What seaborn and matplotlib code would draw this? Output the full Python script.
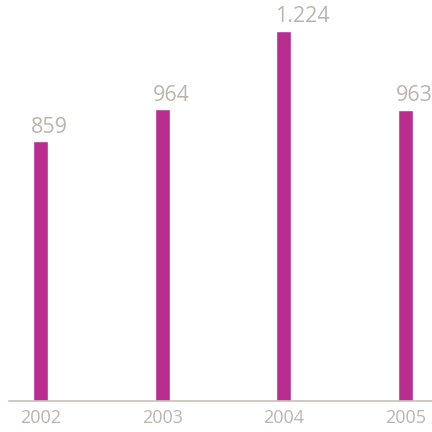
import matplotlib
matplotlib.use("Agg")
import matplotlib.pyplot as plt
import seaborn as sns
import pandas as pd

years = ["2002", "2003", "2004", "2005"]
values = [859, 964, 1224, 963]
value_labels = ["859", "964", "1.224", "963"]

sns.set_theme(style="white")
plt.rcParams['font.family'] = ['Open Sans', 'DejaVu Sans']

BAR = "#B92D91"
GREY = "#BDB5AD"

df = pd.DataFrame({"year": years, "value": values})

fig = plt.figure(figsize=(4.32, 4.32), dpi=100)
ax = fig.add_axes([9/432, 31/432, 1 - 9/432, 1 - 31/432])
width = 0.125
sns.barplot(data=df, x="year", y="value", color=BAR, saturation=1, width=width, ax=ax)

ax.set_xlim(-0.259, 3.218)
ax.set_ylim(0, 1325.6)
for i, (v, lab) in enumerate(zip(values, value_labels)):
    ax.annotate(lab, xy=(i - width/2, v), xytext=(-1.2, 2.5), textcoords="offset points",
                ha="left", va="bottom", fontsize=15.5, color=GREY, annotation_clip=False)

ax.set_xlabel("")
ax.set_ylabel("")
ax.set_yticks([])
ax.tick_params(axis="x", length=0, pad=6, labelsize=13, labelcolor=GREY)
for s in ["top", "right", "left"]:
    ax.spines[s].set_visible(False)
ax.spines["bottom"].set_color("#C8C0B8")
ax.spines["bottom"].set_linewidth(1.2)

fig.savefig("out.png", dpi=100)
